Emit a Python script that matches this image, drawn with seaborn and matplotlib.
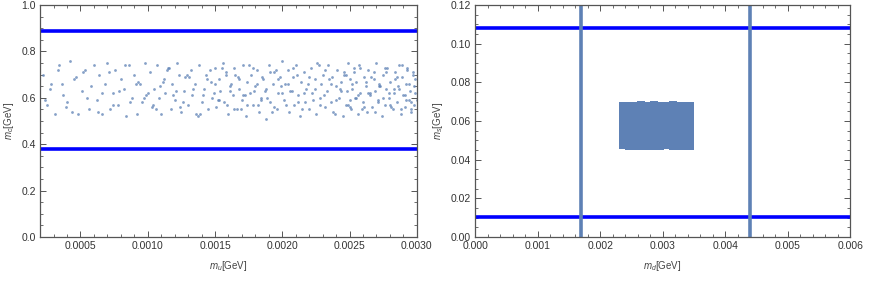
import pandas as pd
import matplotlib
matplotlib.use('Agg')
import matplotlib.pyplot as plt
import seaborn as sns
from matplotlib.ticker import MultipleLocator, FormatStrFormatter

# left panel: scan points (m_u in 1e-3 GeV, m_c in GeV), three read-off batches
mu_a = [0.22, 0.25, 0.28, 0.31, 0.34, 0.37, 0.40, 0.42, 0.45, 0.48, 0.51, 0.53, 0.56, 0.58, 0.60,
        0.62, 0.64, 0.66, 0.68, 0.70, 0.72, 0.74, 0.76, 0.78, 0.80, 0.82, 0.84, 0.86, 0.88, 0.90,
        0.92, 0.94, 0.96, 0.98, 1.00,
        1.02, 1.03, 1.05, 1.07, 1.08, 1.10, 1.12, 1.13, 1.15, 1.17, 1.18, 1.20, 1.22, 1.23, 1.25,
        1.27, 1.28, 1.30, 1.32, 1.33, 1.35, 1.37, 1.38, 1.40, 1.42, 1.43, 1.45, 1.47, 1.48, 1.50,
        1.51, 1.53, 1.54, 1.56, 1.57, 1.58, 1.60, 1.61, 1.63, 1.64, 1.66, 1.67, 1.68, 1.70, 1.71,
        1.73, 1.74, 1.76, 1.77, 1.78, 1.80, 1.81, 1.83, 1.84, 1.86, 1.87, 1.88, 1.90, 1.91, 1.93,
        1.94, 1.96, 1.97, 1.98, 2.00,
        2.01, 2.02, 2.04, 2.05, 2.06, 2.08, 2.09, 2.10, 2.12, 2.13, 2.14, 2.16, 2.17, 2.18, 2.20,
        2.21, 2.22, 2.24, 2.25, 2.26, 2.28, 2.29, 2.30, 2.32, 2.33, 2.34, 2.36, 2.37, 2.38, 2.40,
        2.41, 2.42, 2.44, 2.45, 2.46, 2.47, 2.48, 2.49, 2.50, 2.50,
        2.51, 2.52, 2.53, 2.54, 2.55, 2.56, 2.57, 2.58, 2.60, 2.61, 2.62, 2.63, 2.64, 2.65, 2.67,
        2.68, 2.69, 2.70, 2.71, 2.72, 2.74, 2.75, 2.76, 2.77, 2.78, 2.79, 2.80, 2.82, 2.83, 2.84,
        2.85, 2.86, 2.87, 2.88, 2.89, 2.90, 2.91, 2.92, 2.93, 2.94, 2.95, 2.96, 2.97, 2.98, 2.99]
mc_a = [0.70, 0.57, 0.66, 0.53, 0.74, 0.61, 0.58, 0.76, 0.68, 0.53, 0.63, 0.72, 0.55, 0.65, 0.74,
        0.59, 0.70, 0.53, 0.66, 0.75, 0.55, 0.62, 0.72, 0.57, 0.68, 0.64, 0.52, 0.74, 0.60, 0.70,
        0.53, 0.66, 0.58, 0.75, 0.62,
        0.71, 0.56, 0.64, 0.74, 0.60, 0.53, 0.68, 0.62, 0.73, 0.55, 0.66, 0.59, 0.75, 0.70, 0.54,
        0.63, 0.69, 0.57, 0.72, 0.61, 0.66, 0.52, 0.74, 0.58, 0.64, 0.70, 0.55, 0.67, 0.60, 0.73,
        0.56, 0.68, 0.63, 0.75, 0.58, 0.71, 0.53, 0.65, 0.61, 0.73, 0.55, 0.69, 0.64, 0.59, 0.74,
        0.52, 0.67, 0.62, 0.70, 0.57, 0.65, 0.72, 0.54, 0.60, 0.68, 0.63, 0.51, 0.74, 0.58, 0.66,
        0.71, 0.55, 0.62, 0.69, 0.76,
        0.59, 0.66, 0.72, 0.54, 0.63, 0.69, 0.57, 0.74, 0.61, 0.52, 0.67, 0.71, 0.58, 0.64, 0.55,
        0.73, 0.62, 0.68, 0.53, 0.75, 0.60, 0.66, 0.70, 0.56, 0.63, 0.74, 0.58, 0.69, 0.54, 0.65,
        0.72, 0.60, 0.67, 0.52, 0.71, 0.57, 0.63, 0.75, 0.59, 0.68,
        0.55, 0.64, 0.71, 0.60, 0.67, 0.53, 0.74, 0.62, 0.58, 0.69, 0.65, 0.54, 0.72, 0.61, 0.56,
        0.68, 0.63, 0.75, 0.59, 0.66, 0.52, 0.70, 0.57, 0.64, 0.73, 0.60, 0.67, 0.55, 0.62, 0.71,
        0.58, 0.65, 0.74, 0.53, 0.69, 0.61, 0.56, 0.66, 0.72, 0.59, 0.63, 0.54, 0.70, 0.57, 0.68]
mu_b = [0.27, 0.33, 0.39, 0.47, 0.55, 0.63, 0.71, 0.79, 0.87, 0.93,
        0.97, 1.04, 1.09, 1.14, 1.19, 1.24, 1.29, 1.34, 1.39, 1.44,
        1.49, 1.52, 1.55, 1.59, 1.62, 1.65, 1.69, 1.72, 1.75, 1.79,
        1.82, 1.85, 1.89, 1.92, 1.95, 1.99, 2.03, 2.07, 2.11, 2.15,
        2.19, 2.23, 2.27, 2.31, 2.35, 2.39, 2.43, 2.46, 2.49, 2.52,
        2.55, 2.58, 2.61, 2.64, 2.66, 2.69, 2.72, 2.75, 2.77, 2.80,
        2.83, 2.85, 2.88, 2.91, 2.93, 2.96, 2.98]
mc_b = [0.64, 0.72, 0.56, 0.69, 0.60, 0.54, 0.71, 0.63, 0.58, 0.67,
        0.60, 0.57, 0.65, 0.72, 0.61, 0.56, 0.70, 0.64, 0.53, 0.68,
        0.62, 0.59, 0.73, 0.57, 0.66, 0.70, 0.55, 0.61, 0.74, 0.63,
        0.57, 0.69, 0.60, 0.54, 0.72, 0.65, 0.57, 0.63, 0.70, 0.55,
        0.66, 0.59, 0.74, 0.61, 0.68, 0.53, 0.64, 0.70, 0.57, 0.66,
        0.60, 0.73, 0.56, 0.62, 0.69, 0.54, 0.65, 0.60, 0.71, 0.57,
        0.64, 0.69, 0.55, 0.61, 0.73, 0.58, 0.65]
mu_c = [0.24, 0.36, 0.44, 0.52, 0.66, 0.74, 0.83, 0.91, 0.99, 1.06,
        1.11, 1.16, 1.21, 1.26, 1.31, 1.36, 1.41, 1.46, 1.50, 1.53,
        1.58, 1.61, 1.64, 1.68, 1.71, 1.74, 1.78, 1.81, 1.84, 1.88,
        1.91, 1.94, 1.97, 2.00, 2.04, 2.08, 2.12, 2.16, 2.20, 2.24,
        2.28, 2.32, 2.36, 2.40, 2.44, 2.47, 2.50, 2.53, 2.56, 2.59,
        2.62, 2.65, 2.68, 2.71, 2.73, 2.76, 2.79, 2.81, 2.84, 2.87,
        2.89, 2.92, 2.94, 2.96, 2.97, 2.99, 3.00]
mc_c = [0.59, 0.66, 0.54, 0.71, 0.62, 0.57, 0.74, 0.66, 0.61, 0.55,
        0.67, 0.73, 0.63, 0.58, 0.69, 0.53, 0.61, 0.72, 0.66, 0.59,
        0.70, 0.63, 0.55, 0.68, 0.61, 0.57, 0.73, 0.66, 0.59, 0.64,
        0.71, 0.56, 0.68, 0.62, 0.66, 0.73, 0.58, 0.62, 0.69, 0.64,
        0.57, 0.72, 0.66, 0.59, 0.63, 0.70, 0.56, 0.73, 0.61, 0.55,
        0.67, 0.62, 0.71, 0.58, 0.65, 0.73, 0.62, 0.56, 0.68, 0.64,
        0.74, 0.59, 0.66, 0.55, 0.71, 0.62, 0.59]
mc_bounds = [0.377, 0.890]

# right panel: scan points (m_d in 1e-3 GeV, m_s in GeV)
md_pts = [2.36, 2.46, 2.56, 2.66, 2.76, 2.86, 2.96, 3.06, 3.16, 3.26, 3.36, 3.44,
          2.36, 2.46, 2.56, 2.66, 2.76, 2.86, 2.96, 3.06, 3.16, 3.26, 3.36, 3.44,
          2.36, 2.46, 2.56, 2.66, 2.76, 2.86, 2.96, 3.06, 3.16, 3.26, 3.36, 3.44,
          2.36, 2.46, 2.56, 2.66, 2.76, 2.86, 2.96, 3.06, 3.16, 3.26, 3.36, 3.44,
          2.36, 2.46, 2.56, 2.66, 2.76, 2.86, 2.96, 3.06, 3.16, 3.26, 3.36, 3.44,
          2.36, 2.46, 2.56, 2.66, 2.76, 2.86, 2.96, 3.06, 3.16, 3.26, 3.36, 3.44,
          2.36, 2.46, 2.56, 2.66, 2.76, 2.86, 2.96, 3.06, 3.16, 3.26, 3.36, 3.44,
          2.36, 2.46, 2.56, 2.66, 2.76, 2.86, 2.96, 3.06, 3.16, 3.26, 3.36, 3.44]
ms_pts = [0.0474, 0.0470, 0.0472, 0.0468, 0.0473, 0.0471, 0.0469, 0.0474, 0.0470, 0.0472, 0.0468, 0.0471,
          0.0502, 0.0500, 0.0503, 0.0501, 0.0502, 0.0500, 0.0503, 0.0501, 0.0502, 0.0500, 0.0503, 0.0501,
          0.0532, 0.0530, 0.0533, 0.0531, 0.0532, 0.0530, 0.0533, 0.0531, 0.0532, 0.0530, 0.0533, 0.0531,
          0.0561, 0.0560, 0.0562, 0.0561, 0.0560, 0.0562, 0.0561, 0.0560, 0.0562, 0.0561, 0.0560, 0.0562,
          0.0591, 0.0590, 0.0592, 0.0591, 0.0590, 0.0592, 0.0591, 0.0590, 0.0592, 0.0591, 0.0590, 0.0592,
          0.0621, 0.0620, 0.0622, 0.0621, 0.0620, 0.0622, 0.0621, 0.0620, 0.0622, 0.0621, 0.0620, 0.0622,
          0.0650, 0.0651, 0.0649, 0.0650, 0.0651, 0.0649, 0.0650, 0.0651, 0.0649, 0.0650, 0.0651, 0.0649,
          0.0676, 0.0680, 0.0678, 0.0682, 0.0677, 0.0681, 0.0679, 0.0676, 0.0682, 0.0678, 0.0680, 0.0677]
ms_bounds = [0.0102, 0.108]
md_bounds = [0.0017, 0.0044]

df_left = pd.DataFrame({'mu': [v * 1e-3 for v in mu_a + mu_b + mu_c],
                        'mc': mc_a + mc_b + mc_c})
df_right = pd.DataFrame({'md': [v * 1e-3 for v in md_pts], 'ms': ms_pts})

sns.set_style('ticks')
plt.rcParams['font.family'] = ['Liberation Sans', 'DejaVu Sans']
plt.rcParams['mathtext.fontset'] = 'custom'
plt.rcParams['mathtext.rm'] = 'Liberation Sans'
plt.rcParams['mathtext.it'] = 'Liberation Sans:italic'

pt_color = '#5E81B5'
line_blue = '#0000FF'
frame = '#555555'

fig = plt.figure(figsize=(8.72, 2.81), dpi=100)
ax1 = fig.add_axes([0.046, 0.157, 0.432, 0.825])
ax2 = fig.add_axes([0.545, 0.157, 0.430, 0.825])

# left panel
sns.scatterplot(data=df_left, x='mu', y='mc', ax=ax1, color=pt_color, s=4, linewidth=0, alpha=0.75)
for b in mc_bounds:
    ax1.axhline(b, color=line_blue, lw=2.6)
ax1.set_xlim(0.0002, 0.003)
ax1.set_ylim(0, 1)
ax1.xaxis.set_major_locator(MultipleLocator(0.0005))
ax1.xaxis.set_minor_locator(MultipleLocator(0.0001))
ax1.xaxis.set_major_formatter(FormatStrFormatter('%.4f'))
ax1.yaxis.set_major_locator(MultipleLocator(0.2))
ax1.yaxis.set_minor_locator(MultipleLocator(0.05))
ax1.yaxis.set_major_formatter(FormatStrFormatter('%.1f'))
ax1.set_xlabel(r'$m_u$[GeV]')
ax1.set_ylabel(r'$m_c$[GeV]')

# right panel
sns.scatterplot(data=df_right, x='md', y='ms', ax=ax2, color=pt_color, s=38, marker='s', linewidth=0)
for b in ms_bounds:
    ax2.axhline(b, color=line_blue, lw=2.6)
for b in md_bounds:
    ax2.axvline(b, color=pt_color, lw=2.6)
ax2.set_xlim(0, 0.006)
ax2.set_ylim(0, 0.12)
ax2.xaxis.set_major_locator(MultipleLocator(0.001))
ax2.xaxis.set_minor_locator(MultipleLocator(0.0002))
ax2.xaxis.set_major_formatter(FormatStrFormatter('%.3f'))
ax2.yaxis.set_major_locator(MultipleLocator(0.02))
ax2.yaxis.set_minor_locator(MultipleLocator(0.005))
ax2.yaxis.set_major_formatter(FormatStrFormatter('%.2f'))
ax2.set_xlabel(r'$m_d$[GeV]')
ax2.set_ylabel(r'$m_s$[GeV]')

for ax in (ax1, ax2):
    for sp in ax.spines.values():
        sp.set_visible(True)
        sp.set_color(frame)
        sp.set_linewidth(0.9)
    ax.tick_params(which='both', direction='in', top=True, right=True, color=frame,
                   labelsize=7.5, labelcolor='#333333', pad=3)
    ax.tick_params(which='major', length=4, width=0.7)
    ax.tick_params(which='minor', length=2.2, width=0.6)
    ax.xaxis.label.set_size(7)
    ax.yaxis.label.set_size(7)
    ax.xaxis.label.set_color('#444444')
    ax.yaxis.label.set_color('#444444')
    ax.xaxis.labelpad = 6
    ax.yaxis.labelpad = 4

fig.savefig('out.png', dpi=100)
